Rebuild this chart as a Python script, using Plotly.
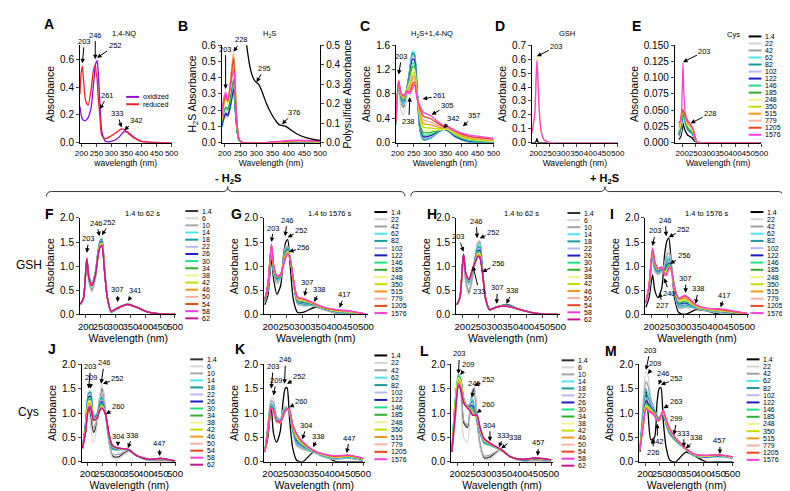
import plotly.graph_objects as go

FONT = 'Arial, "Liberation Sans", sans-serif'
FW, FH = 790, 491

# ---------------- series names / colours ----------------
S15 = ['1.4', '22', '42', '62', '82', '102', '122', '146', '185', '248', '350', '515', '779', '1205', '1576']
S16 = ['1.4', '6', '10', '14', '18', '22', '26', '30', '34', '38', '42', '46', '50', '54', '58', '62']
COL15 = ['#000000', '#d4d4d4', '#a0a0a0', '#4fe3f0', '#1a9a9a', '#b9b9f0', '#1c1cc4', '#22e085',
         '#2fae2f', '#f2f28c', '#c6dc00', '#f39a1c', '#f5b3a3', '#e8461c', '#ff3fd2']
COL16 = ['#333333', '#d8d8d8', '#a6a6a6', '#4fe3f0', '#1a9a9a', '#b9b9f0', '#1c1cc4', '#22e085',
         '#2fae2f', '#f2f28c', '#c6dc00', '#f39a1c', '#f5b3a3', '#e8461c', '#f03cd8', '#c0188e']

# ---------------- A: 1,4-NQ ----------------
A_WL = [195, 199, 203, 208, 214, 222, 232, 240, 246, 249, 252, 256, 261, 268, 280, 300, 320, 333, 342, 355, 375, 400, 450, 500]
A_OXIDIZED = [0.26, 0.2, 0.17, 0.16, 0.16, 0.18, 0.25, 0.42, 0.55, 0.58, 0.59, 0.5, 0.3, 0.08, 0.01, 0.01, 0.03, 0.06, 0.08, 0.075, 0.04, 0.01, 0.0, 0.0]
A_REDUCED = [0.35, 0.5, 0.55, 0.42, 0.3, 0.27, 0.38, 0.52, 0.56, 0.5, 0.46, 0.32, 0.2, 0.05, 0.03, 0.05, 0.08, 0.1, 0.095, 0.07, 0.035, 0.01, 0.002, 0.0]

# ---------------- B: H2S (left, 22..1576) + polysulfide (right) ----------------
B_WL = [191, 197, 203, 210, 218, 228, 236, 244, 252, 270, 320, 380, 420, 460, 500]
B_ABS = {
    191: [0.1, 0.1, 0.1, 0.1, 0.11, 0.1, 0.12, 0.13, 0.14, 0.15, 0.15, 0.16, 0.16, 0.17],
    197: [0.14, 0.14, 0.15, 0.15, 0.16, 0.15, 0.18, 0.19, 0.22, 0.23, 0.24, 0.25, 0.25, 0.27],
    203: [0.17, 0.17, 0.18, 0.18, 0.19, 0.18, 0.21, 0.22, 0.26, 0.27, 0.28, 0.29, 0.29, 0.31],
    210: [0.16, 0.16, 0.17, 0.17, 0.18, 0.17, 0.2, 0.21, 0.24, 0.25, 0.26, 0.26, 0.26, 0.26],
    218: [0.22, 0.22, 0.23, 0.23, 0.24, 0.23, 0.26, 0.28, 0.34, 0.36, 0.37, 0.37, 0.36, 0.34],
    228: [0.31, 0.31, 0.32, 0.33, 0.34, 0.33, 0.37, 0.39, 0.5, 0.53, 0.55, 0.54, 0.52, 0.45],
    236: [0.13, 0.13, 0.13, 0.14, 0.14, 0.14, 0.15, 0.16, 0.2, 0.21, 0.22, 0.22, 0.21, 0.18],
    244: [0.02, 0.02, 0.02, 0.02, 0.02, 0.02, 0.02, 0.02, 0.03, 0.03, 0.03, 0.03, 0.03, 0.03],
    252: [0.005, 0.005, 0.005, 0.005, 0.005, 0.005, 0.005, 0.005, 0.005, 0.005, 0.005, 0.005, 0.005, 0.005],
    270: [0.0, 0.0, 0.0, 0.0, 0.0, 0.0, 0.0, 0.0, 0.0, 0.0, 0.0, 0.0, 0.0, 0.0],
    320: [0.0, 0.0, 0.0, 0.0, 0.0, 0.0, 0.0, 0.0, 0.0, 0.0, 0.0, 0.0, 0.0, 0.0],
    380: [0.003, 0.003, 0.003, 0.003, 0.004, 0.004, 0.004, 0.005, 0.005, 0.006, 0.006, 0.007, 0.008, 0.01],
    420: [0.004, 0.004, 0.005, 0.005, 0.006, 0.006, 0.007, 0.008, 0.009, 0.01, 0.011, 0.012, 0.013, 0.016],
    460: [0.004, 0.004, 0.004, 0.005, 0.005, 0.005, 0.006, 0.007, 0.008, 0.009, 0.01, 0.011, 0.012, 0.014],
    500: [0.002, 0.002, 0.002, 0.002, 0.003, 0.003, 0.003, 0.004, 0.004, 0.005, 0.005, 0.006, 0.006, 0.008],
}
B_PS_WL = [250, 268, 281, 291, 301, 306, 316, 331, 346, 362, 372, 382, 392, 407, 427, 458, 493, 500]
B_PS = [0.8, 0.512, 0.377, 0.327, 0.307, 0.302, 0.268, 0.201, 0.15, 0.109, 0.092, 0.088, 0.084, 0.067, 0.045, 0.025, 0.013, 0.012]

# ---------------- C: H2S + 1,4-NQ ----------------
C_WL = [194, 203, 210, 218, 228, 238, 246, 252, 261, 270, 280, 305, 325, 342, 357, 380, 420, 460, 500]
C_ABS = {
    194: [0.3, 0.3, 0.3, 0.3, 0.31, 0.31, 0.32, 0.32, 0.32, 0.33, 0.33, 0.33, 0.34, 0.34, 0.35],
    203: [0.95, 0.9, 0.95, 0.98, 0.98, 0.99, 0.99, 1.0, 1.0, 1.0, 1.0, 1.01, 1.02, 1.02, 1.0],
    210: [0.7, 0.55, 0.7, 0.72, 0.74, 0.75, 0.76, 0.77, 0.78, 0.79, 0.8, 0.8, 0.81, 0.82, 0.82],
    218: [0.58, 0.45, 0.58, 0.62, 0.65, 0.67, 0.69, 0.7, 0.72, 0.73, 0.74, 0.75, 0.76, 0.77, 0.78],
    228: [0.85, 0.7, 0.85, 0.88, 0.88, 0.88, 0.87, 0.87, 0.86, 0.86, 0.85, 0.85, 0.84, 0.84, 0.83],
    238: [1.2, 1.15, 1.2, 1.2, 1.18, 1.15, 1.12, 1.08, 1.04, 1.0, 0.96, 0.92, 0.88, 0.84, 0.8],
    246: [1.45, 1.45, 1.48, 1.5, 1.46, 1.42, 1.37, 1.3, 1.24, 1.18, 1.12, 1.06, 1.0, 0.95, 0.9],
    252: [1.42, 1.42, 1.45, 1.48, 1.45, 1.4, 1.36, 1.3, 1.25, 1.2, 1.15, 1.1, 1.05, 1.0, 0.95],
    261: [0.85, 0.85, 0.85, 0.85, 0.84, 0.83, 0.82, 0.8, 0.79, 0.78, 0.76, 0.75, 0.74, 0.73, 0.72],
    270: [0.2, 0.2, 0.2, 0.2, 0.22, 0.25, 0.28, 0.32, 0.36, 0.4, 0.44, 0.48, 0.52, 0.56, 0.6],
    280: [0.05, 0.05, 0.05, 0.05, 0.06, 0.08, 0.1, 0.13, 0.17, 0.21, 0.26, 0.32, 0.38, 0.44, 0.5],
    305: [0.08, 0.08, 0.08, 0.08, 0.09, 0.1, 0.12, 0.14, 0.17, 0.2, 0.24, 0.29, 0.34, 0.39, 0.44],
    325: [0.17, 0.17, 0.17, 0.17, 0.17, 0.17, 0.18, 0.19, 0.2, 0.21, 0.23, 0.26, 0.29, 0.32, 0.35],
    342: [0.22, 0.22, 0.22, 0.22, 0.22, 0.22, 0.22, 0.22, 0.22, 0.22, 0.23, 0.24, 0.25, 0.27, 0.29],
    357: [0.2, 0.2, 0.2, 0.2, 0.2, 0.2, 0.2, 0.21, 0.21, 0.22, 0.23, 0.24, 0.25, 0.26, 0.27],
    380: [0.1, 0.1, 0.1, 0.1, 0.1, 0.11, 0.11, 0.12, 0.13, 0.14, 0.15, 0.17, 0.18, 0.19, 0.2],
    420: [0.02, 0.02, 0.02, 0.02, 0.02, 0.03, 0.03, 0.04, 0.05, 0.06, 0.07, 0.08, 0.1, 0.11, 0.13],
    460: [0.01, 0.01, 0.01, 0.01, 0.01, 0.01, 0.02, 0.02, 0.03, 0.04, 0.05, 0.06, 0.07, 0.08, 0.1],
    500: [0.0, 0.0, 0.0, 0.0, 0.0, 0.01, 0.01, 0.01, 0.02, 0.02, 0.03, 0.04, 0.05, 0.06, 0.07],
}

# ---------------- D: GSH ----------------
D_WL = [185, 195, 200, 203, 206, 210, 215, 220, 230, 245, 270, 500]
D_NAMES = ['1.4', '22', '248', '1576']
D_ROWS = [
    [0.0, 0.0, 0.01, 0.03, 0.01, 0.0, 0.0, 0.0, 0.0, 0.0, 0.0, 0.0],
    [0.09, 0.2, 0.44, 0.58, 0.5, 0.3, 0.14, 0.07, 0.02, 0.005, 0.0, 0.0],
    [0.08, 0.21, 0.47, 0.62, 0.53, 0.32, 0.15, 0.07, 0.02, 0.005, 0.0, 0.0],
    [0.07, 0.2, 0.45, 0.59, 0.5, 0.3, 0.14, 0.07, 0.02, 0.005, 0.0, 0.0],
]

# ---------------- E: Cys ----------------
E_WL = [188, 195, 200, 203, 206, 212, 220, 228, 236, 242, 248, 256, 270, 500]
E_ABS = {
    188: [0.005, 0.008, 0.01, 0.012, 0.012, 0.013, 0.013, 0.014, 0.015, 0.02, 0.022, 0.025, 0.028, 0.03, 0.03],
    195: [0.01, 0.015, 0.02, 0.022, 0.022, 0.024, 0.024, 0.025, 0.026, 0.03, 0.032, 0.034, 0.035, 0.035, 0.035],
    200: [0.02, 0.03, 0.035, 0.038, 0.038, 0.04, 0.04, 0.042, 0.044, 0.048, 0.05, 0.05, 0.05, 0.05, 0.08],
    203: [0.03, 0.04, 0.044, 0.046, 0.046, 0.048, 0.048, 0.05, 0.05, 0.05, 0.052, 0.05, 0.05, 0.05, 0.123],
    206: [0.025, 0.035, 0.04, 0.042, 0.042, 0.044, 0.044, 0.045, 0.046, 0.048, 0.048, 0.047, 0.046, 0.046, 0.08],
    212: [0.018, 0.028, 0.03, 0.032, 0.032, 0.034, 0.034, 0.035, 0.036, 0.038, 0.04, 0.04, 0.04, 0.04, 0.045],
    220: [0.012, 0.02, 0.021, 0.021, 0.022, 0.022, 0.022, 0.023, 0.024, 0.028, 0.03, 0.032, 0.032, 0.033, 0.035],
    228: [0.01, 0.016, 0.017, 0.017, 0.018, 0.018, 0.018, 0.019, 0.02, 0.024, 0.026, 0.028, 0.029, 0.03, 0.03],
    236: [0.008, 0.014, 0.015, 0.015, 0.016, 0.016, 0.016, 0.017, 0.018, 0.02, 0.022, 0.024, 0.025, 0.025, 0.025],
    242: [0.005, 0.01, 0.011, 0.011, 0.012, 0.012, 0.012, 0.013, 0.013, 0.015, 0.016, 0.018, 0.019, 0.02, 0.02],
    248: [0.002, 0.004, 0.005, 0.005, 0.005, 0.005, 0.005, 0.006, 0.006, 0.007, 0.008, 0.009, 0.01, 0.01, 0.01],
    256: [0.001, 0.001, 0.001, 0.001, 0.001, 0.001, 0.001, 0.001, 0.001, 0.001, 0.001, 0.001, 0.001, 0.001, 0.001],
    270: [0.0, 0.0, 0.0, 0.0, 0.0, 0.0, 0.0, 0.0, 0.0, 0.0, 0.0, 0.0, 0.0, 0.0, 0.0],
    500: [0.0, 0.0, 0.0, 0.0, 0.0, 0.0, 0.0, 0.0, 0.0, 0.0, 0.0, 0.0, 0.0, 0.0, 0.0],
}

# ---------------- F-M share one wavelength grid ----------------
WL = [182, 192, 203, 210, 220, 232, 241, 248, 254, 262, 272, 285, 305, 340, 370, 410, 450, 500]

F_ABS = {  # GSH, -H2S, 1.4-62 s
    182: [0.2, 0.2, 0.2, 0.22, 0.22, 0.22, 0.22, 0.22, 0.22, 0.22, 0.22, 0.22, 0.22, 0.22, 0.22, 0.22],
    192: [0.32, 0.3, 0.32, 0.35, 0.35, 0.35, 0.35, 0.35, 0.35, 0.35, 0.35, 0.35, 0.35, 0.35, 0.35, 0.35],
    203: [1.12, 1.1, 1.12, 1.16, 1.16, 1.16, 1.16, 1.16, 1.16, 1.15, 1.15, 1.15, 1.15, 1.15, 1.15, 1.15],
    210: [0.72, 0.68, 0.7, 0.8, 0.8, 0.79, 0.79, 0.78, 0.78, 0.77, 0.77, 0.77, 0.76, 0.76, 0.76, 0.76],
    220: [0.5, 0.45, 0.5, 0.64, 0.65, 0.63, 0.62, 0.62, 0.61, 0.61, 0.6, 0.6, 0.6, 0.6, 0.6, 0.6],
    232: [0.78, 0.72, 0.76, 0.88, 0.88, 0.87, 0.86, 0.85, 0.85, 0.84, 0.84, 0.83, 0.83, 0.82, 0.82, 0.82],
    241: [1.22, 1.2, 1.22, 1.32, 1.32, 1.3, 1.29, 1.28, 1.27, 1.26, 1.25, 1.25, 1.24, 1.23, 1.22, 1.22],
    248: [1.46, 1.45, 1.46, 1.53, 1.53, 1.51, 1.49, 1.47, 1.46, 1.45, 1.44, 1.43, 1.42, 1.41, 1.4, 1.39],
    254: [1.48, 1.47, 1.48, 1.56, 1.56, 1.53, 1.51, 1.49, 1.48, 1.47, 1.46, 1.45, 1.44, 1.43, 1.42, 1.41],
    262: [0.98, 0.98, 0.98, 1.02, 1.02, 1.0, 0.99, 0.98, 0.97, 0.97, 0.96, 0.96, 0.95, 0.95, 0.94, 0.94],
    272: [0.36, 0.36, 0.36, 0.38, 0.38, 0.37, 0.37, 0.36, 0.36, 0.36, 0.35, 0.35, 0.35, 0.35, 0.35, 0.35],
    285: [0.07, 0.07, 0.07, 0.05, 0.05, 0.06, 0.06, 0.06, 0.07, 0.07, 0.07, 0.07, 0.07, 0.07, 0.07, 0.07],
    305: [0.12, 0.12, 0.12, 0.11, 0.11, 0.12, 0.12, 0.12, 0.12, 0.12, 0.13, 0.13, 0.13, 0.13, 0.13, 0.13],
    340: [0.2, 0.2, 0.2, 0.22, 0.22, 0.22, 0.21, 0.21, 0.21, 0.21, 0.21, 0.21, 0.21, 0.21, 0.21, 0.21],
    370: [0.15, 0.15, 0.15, 0.16, 0.16, 0.16, 0.15, 0.15, 0.15, 0.15, 0.15, 0.15, 0.15, 0.15, 0.15, 0.15],
    410: [0.05, 0.05, 0.05, 0.05, 0.05, 0.05, 0.05, 0.05, 0.05, 0.05, 0.05, 0.05, 0.05, 0.05, 0.05, 0.05],
    450: [0.01, 0.01, 0.01, 0.01, 0.01, 0.01, 0.01, 0.01, 0.01, 0.01, 0.01, 0.01, 0.01, 0.01, 0.01, 0.01],
    500: [0.0, 0.0, 0.0, 0.0, 0.0, 0.0, 0.0, 0.0, 0.0, 0.0, 0.0, 0.0, 0.0, 0.0, 0.0, 0.0],
}
G_ABS = {  # GSH, -H2S, 1.4-1576 s
    182: [0.2, 0.25, 0.26, 0.27, 0.27, 0.28, 0.28, 0.28, 0.29, 0.29, 0.29, 0.3, 0.3, 0.3, 0.3],
    192: [0.4, 0.5, 0.52, 0.54, 0.55, 0.56, 0.57, 0.58, 0.6, 0.6, 0.62, 0.62, 0.63, 0.64, 0.65],
    203: [1.15, 1.3, 1.32, 1.34, 1.35, 1.36, 1.37, 1.38, 1.4, 1.41, 1.42, 1.43, 1.44, 1.45, 1.46],
    210: [0.72, 0.85, 0.88, 0.9, 0.92, 0.93, 0.94, 0.95, 0.97, 0.98, 0.99, 1.0, 1.0, 1.01, 1.02],
    220: [0.42, 0.62, 0.66, 0.7, 0.72, 0.74, 0.75, 0.76, 0.77, 0.78, 0.79, 0.8, 0.8, 0.8, 0.8],
    232: [0.6, 0.75, 0.78, 0.8, 0.81, 0.82, 0.82, 0.83, 0.83, 0.83, 0.83, 0.83, 0.83, 0.83, 0.83],
    241: [1.22, 1.15, 1.13, 1.12, 1.11, 1.1, 1.09, 1.08, 1.07, 1.06, 1.05, 1.05, 1.04, 1.03, 1.02],
    248: [1.5, 1.42, 1.38, 1.35, 1.33, 1.31, 1.3, 1.28, 1.26, 1.25, 1.23, 1.22, 1.2, 1.19, 1.18],
    254: [1.55, 1.42, 1.4, 1.38, 1.37, 1.35, 1.34, 1.33, 1.31, 1.3, 1.29, 1.28, 1.27, 1.26, 1.25],
    262: [1.0, 1.15, 1.15, 1.15, 1.15, 1.15, 1.15, 1.15, 1.15, 1.15, 1.15, 1.15, 1.15, 1.14, 1.14],
    272: [0.3, 0.68, 0.68, 0.69, 0.69, 0.7, 0.7, 0.7, 0.71, 0.71, 0.72, 0.72, 0.73, 0.73, 0.74],
    285: [0.04, 0.2, 0.22, 0.24, 0.25, 0.27, 0.28, 0.29, 0.3, 0.31, 0.32, 0.33, 0.34, 0.35, 0.36],
    305: [0.05, 0.17, 0.19, 0.21, 0.22, 0.24, 0.25, 0.26, 0.27, 0.28, 0.29, 0.3, 0.31, 0.32, 0.33],
    340: [0.15, 0.17, 0.18, 0.18, 0.19, 0.19, 0.2, 0.2, 0.2, 0.21, 0.21, 0.21, 0.22, 0.22, 0.22],
    370: [0.1, 0.1, 0.1, 0.11, 0.11, 0.11, 0.12, 0.12, 0.12, 0.13, 0.13, 0.13, 0.14, 0.14, 0.14],
    410: [0.02, 0.03, 0.04, 0.04, 0.05, 0.05, 0.06, 0.06, 0.07, 0.07, 0.08, 0.08, 0.09, 0.09, 0.1],
    450: [0.0, 0.02, 0.02, 0.03, 0.03, 0.03, 0.04, 0.04, 0.05, 0.05, 0.05, 0.06, 0.06, 0.07, 0.07],
    500: [0.0, 0.0, 0.0, 0.0, 0.0, 0.01, 0.01, 0.01, 0.01, 0.01, 0.01, 0.01, 0.01, 0.01, 0.01],
}
H_ABS = {  # GSH, +H2S, 1.4-62 s
    182: [0.2, 0.2, 0.2, 0.2, 0.2, 0.2, 0.2, 0.2, 0.2, 0.2, 0.2, 0.2, 0.2, 0.2, 0.2, 0.2],
    192: [0.35, 0.33, 0.35, 0.36, 0.36, 0.36, 0.36, 0.36, 0.36, 0.36, 0.36, 0.36, 0.36, 0.36, 0.36, 0.36],
    203: [1.2, 1.2, 1.22, 1.24, 1.25, 1.25, 1.25, 1.25, 1.25, 1.25, 1.25, 1.25, 1.25, 1.25, 1.25, 1.25],
    210: [0.7, 0.62, 0.7, 0.82, 0.84, 0.84, 0.85, 0.85, 0.86, 0.86, 0.86, 0.86, 0.86, 0.86, 0.86, 0.86],
    220: [0.45, 0.4, 0.5, 0.62, 0.65, 0.66, 0.68, 0.69, 0.7, 0.7, 0.71, 0.71, 0.72, 0.72, 0.72, 0.72],
    232: [0.78, 0.72, 0.8, 0.9, 0.92, 0.93, 0.94, 0.94, 0.95, 0.95, 0.95, 0.95, 0.95, 0.95, 0.95, 0.95],
    241: [1.22, 1.2, 1.22, 1.22, 1.2, 1.18, 1.17, 1.15, 1.14, 1.13, 1.12, 1.11, 1.1, 1.1, 1.09, 1.09],
    248: [1.48, 1.48, 1.46, 1.42, 1.38, 1.35, 1.32, 1.3, 1.28, 1.26, 1.25, 1.23, 1.22, 1.21, 1.2, 1.2],
    254: [1.52, 1.52, 1.5, 1.45, 1.4, 1.36, 1.33, 1.3, 1.28, 1.26, 1.24, 1.22, 1.21, 1.2, 1.19, 1.18],
    262: [1.0, 1.0, 1.0, 0.98, 0.97, 0.96, 0.95, 0.94, 0.93, 0.92, 0.91, 0.9, 0.9, 0.9, 0.9, 0.9],
    272: [0.33, 0.32, 0.33, 0.35, 0.35, 0.35, 0.35, 0.35, 0.35, 0.35, 0.35, 0.35, 0.35, 0.35, 0.35, 0.35],
    285: [0.1, 0.1, 0.1, 0.1, 0.1, 0.1, 0.1, 0.1, 0.1, 0.1, 0.1, 0.1, 0.1, 0.1, 0.1, 0.1],
    305: [0.14, 0.14, 0.14, 0.15, 0.15, 0.15, 0.15, 0.15, 0.15, 0.15, 0.15, 0.15, 0.15, 0.15, 0.15, 0.15],
    340: [0.19, 0.19, 0.2, 0.21, 0.21, 0.2, 0.2, 0.19, 0.19, 0.18, 0.18, 0.18, 0.17, 0.17, 0.17, 0.17],
    370: [0.12, 0.12, 0.12, 0.13, 0.13, 0.12, 0.12, 0.12, 0.12, 0.12, 0.12, 0.12, 0.12, 0.12, 0.12, 0.12],
    410: [0.05, 0.05, 0.05, 0.05, 0.05, 0.05, 0.05, 0.05, 0.05, 0.05, 0.05, 0.05, 0.05, 0.05, 0.05, 0.05],
    450: [0.01, 0.01, 0.01, 0.01, 0.01, 0.01, 0.01, 0.01, 0.01, 0.01, 0.01, 0.01, 0.01, 0.01, 0.01, 0.01],
    500: [0.0, 0.0, 0.0, 0.0, 0.0, 0.0, 0.0, 0.0, 0.0, 0.0, 0.0, 0.0, 0.0, 0.0, 0.0, 0.0],
}
I_ABS = {  # GSH, +H2S, 1.4-1576 s
    182: [0.15, 0.22, 0.22, 0.23, 0.23, 0.23, 0.24, 0.24, 0.24, 0.24, 0.25, 0.25, 0.25, 0.25, 0.25],
    192: [0.35, 0.5, 0.52, 0.54, 0.55, 0.56, 0.57, 0.58, 0.6, 0.6, 0.6, 0.6, 0.6, 0.6, 0.6],
    203: [0.82, 1.2, 1.22, 1.24, 1.26, 1.28, 1.29, 1.3, 1.31, 1.32, 1.33, 1.34, 1.35, 1.36, 1.38],
    210: [0.5, 0.9, 0.92, 0.95, 0.97, 0.99, 1.0, 1.02, 1.04, 1.05, 1.06, 1.07, 1.08, 1.09, 1.1],
    220: [0.35, 0.82, 0.84, 0.86, 0.88, 0.89, 0.9, 0.91, 0.92, 0.93, 0.93, 0.94, 0.94, 0.95, 0.95],
    232: [0.55, 0.88, 0.9, 0.92, 0.93, 0.94, 0.95, 0.96, 0.97, 0.97, 0.98, 0.98, 0.98, 0.98, 0.98],
    241: [1.25, 1.05, 1.02, 0.98, 0.96, 0.94, 0.92, 0.9, 0.88, 0.87, 0.86, 0.85, 0.84, 0.83, 0.82],
    248: [1.52, 1.3, 1.22, 1.15, 1.1, 1.05, 1.02, 0.98, 0.95, 0.92, 0.9, 0.88, 0.86, 0.84, 0.82],
    254: [1.58, 1.35, 1.28, 1.2, 1.15, 1.1, 1.07, 1.04, 1.02, 1.0, 0.99, 0.98, 0.97, 0.97, 0.98],
    262: [1.05, 1.05, 1.02, 1.0, 0.98, 0.96, 0.95, 0.94, 0.93, 0.92, 0.92, 0.92, 0.92, 0.92, 0.92],
    272: [0.35, 0.45, 0.46, 0.47, 0.48, 0.49, 0.5, 0.51, 0.52, 0.53, 0.54, 0.55, 0.56, 0.57, 0.58],
    285: [0.04, 0.12, 0.14, 0.16, 0.18, 0.2, 0.22, 0.24, 0.26, 0.28, 0.3, 0.31, 0.32, 0.33, 0.34],
    305: [0.0, 0.14, 0.16, 0.18, 0.2, 0.22, 0.24, 0.26, 0.28, 0.3, 0.32, 0.34, 0.36, 0.38, 0.4],
    340: [0.1, 0.12, 0.13, 0.13, 0.14, 0.14, 0.15, 0.15, 0.16, 0.16, 0.17, 0.17, 0.18, 0.19, 0.2],
    370: [0.08, 0.08, 0.08, 0.09, 0.09, 0.09, 0.1, 0.1, 0.1, 0.11, 0.11, 0.12, 0.12, 0.13, 0.13],
    410: [0.01, 0.04, 0.05, 0.05, 0.06, 0.06, 0.07, 0.07, 0.08, 0.08, 0.09, 0.09, 0.1, 0.11, 0.12],
    450: [0.0, 0.02, 0.02, 0.03, 0.03, 0.04, 0.04, 0.05, 0.05, 0.05, 0.06, 0.06, 0.07, 0.07, 0.08],
    500: [0.0, 0.0, 0.0, 0.0, 0.01, 0.01, 0.01, 0.01, 0.01, 0.01, 0.02, 0.02, 0.02, 0.02, 0.02],
}
J_ABS = {  # Cys, -H2S, 1.4-62 s
    182: [0.28, 0.28, 0.28, 0.28, 0.28, 0.28, 0.28, 0.28, 0.28, 0.28, 0.28, 0.28, 0.28, 0.28, 0.28, 0.28],
    192: [0.6, 0.55, 0.65, 0.8, 0.78, 0.75, 0.72, 0.7, 0.68, 0.66, 0.64, 0.62, 0.6, 0.6, 0.58, 0.58],
    203: [1.1, 1.05, 1.2, 1.42, 1.4, 1.36, 1.32, 1.3, 1.27, 1.24, 1.2, 1.17, 1.15, 1.12, 1.1, 1.08],
    210: [0.95, 0.7, 1.05, 1.45, 1.42, 1.38, 1.34, 1.3, 1.27, 1.24, 1.21, 1.18, 1.16, 1.14, 1.12, 1.1],
    220: [0.6, 0.4, 0.7, 0.95, 0.93, 0.92, 0.9, 0.89, 0.88, 0.87, 0.86, 0.86, 0.85, 0.85, 0.85, 0.85],
    232: [0.8, 0.75, 0.88, 1.0, 0.98, 0.97, 0.95, 0.94, 0.93, 0.92, 0.92, 0.91, 0.9, 0.9, 0.9, 0.9],
    241: [1.3, 1.35, 1.25, 1.22, 1.2, 1.18, 1.15, 1.12, 1.1, 1.08, 1.07, 1.06, 1.05, 1.05, 1.05, 1.05],
    248: [1.5, 1.58, 1.4, 1.35, 1.32, 1.28, 1.24, 1.2, 1.17, 1.15, 1.13, 1.12, 1.11, 1.1, 1.1, 1.1],
    254: [1.4, 1.45, 1.3, 1.2, 1.18, 1.16, 1.14, 1.12, 1.11, 1.1, 1.09, 1.08, 1.08, 1.07, 1.07, 1.07],
    262: [0.95, 0.98, 0.95, 0.95, 0.95, 0.95, 0.95, 0.95, 0.95, 0.95, 0.95, 0.95, 0.95, 0.95, 0.95, 0.95],
    272: [0.45, 0.45, 0.5, 0.55, 0.56, 0.56, 0.57, 0.58, 0.58, 0.59, 0.6, 0.6, 0.6, 0.6, 0.6, 0.6],
    285: [0.12, 0.08, 0.15, 0.25, 0.26, 0.27, 0.28, 0.29, 0.3, 0.31, 0.32, 0.32, 0.33, 0.33, 0.33, 0.33],
    305: [0.1, 0.06, 0.15, 0.24, 0.25, 0.25, 0.26, 0.26, 0.27, 0.27, 0.27, 0.28, 0.28, 0.28, 0.28, 0.28],
    340: [0.23, 0.2, 0.24, 0.25, 0.25, 0.25, 0.25, 0.25, 0.25, 0.25, 0.25, 0.25, 0.25, 0.25, 0.25, 0.25],
    370: [0.12, 0.12, 0.12, 0.12, 0.12, 0.12, 0.12, 0.12, 0.12, 0.12, 0.12, 0.12, 0.12, 0.12, 0.12, 0.12],
    410: [0.03, 0.02, 0.03, 0.04, 0.04, 0.04, 0.05, 0.05, 0.05, 0.05, 0.05, 0.05, 0.05, 0.05, 0.05, 0.05],
    450: [0.03, 0.01, 0.04, 0.07, 0.07, 0.07, 0.07, 0.07, 0.07, 0.07, 0.07, 0.07, 0.07, 0.07, 0.07, 0.07],
    500: [0.01, 0.0, 0.01, 0.02, 0.02, 0.02, 0.02, 0.02, 0.02, 0.02, 0.02, 0.02, 0.02, 0.02, 0.02, 0.02],
}
K_ABS = {  # Cys, -H2S, 1.4-1576 s
    182: [0.2, 0.2, 0.2, 0.2, 0.2, 0.2, 0.2, 0.2, 0.2, 0.2, 0.2, 0.2, 0.2, 0.2, 0.2],
    192: [0.5, 0.75, 0.72, 0.7, 0.68, 0.67, 0.66, 0.65, 0.64, 0.63, 0.62, 0.61, 0.6, 0.6, 0.6],
    203: [1.12, 1.3, 1.25, 1.2, 1.17, 1.15, 1.13, 1.12, 1.11, 1.1, 1.1, 1.1, 1.1, 1.1, 1.1],
    210: [0.6, 1.3, 1.22, 1.15, 1.12, 1.1, 1.08, 1.07, 1.06, 1.05, 1.05, 1.05, 1.05, 1.05, 1.05],
    220: [0.4, 0.95, 0.92, 0.9, 0.88, 0.87, 0.86, 0.85, 0.84, 0.83, 0.83, 0.83, 0.83, 0.83, 0.83],
    232: [0.62, 0.88, 0.86, 0.84, 0.83, 0.82, 0.82, 0.81, 0.81, 0.8, 0.8, 0.8, 0.8, 0.8, 0.82],
    241: [1.22, 1.05, 1.02, 1.0, 0.98, 0.96, 0.95, 0.94, 0.93, 0.92, 0.92, 0.92, 0.92, 0.93, 0.94],
    248: [1.5, 1.15, 1.12, 1.1, 1.08, 1.06, 1.05, 1.04, 1.03, 1.02, 1.02, 1.02, 1.03, 1.04, 1.05],
    254: [1.52, 1.12, 1.1, 1.08, 1.07, 1.06, 1.06, 1.06, 1.06, 1.06, 1.07, 1.07, 1.08, 1.08, 1.09],
    262: [0.9, 1.02, 1.02, 1.02, 1.02, 1.03, 1.03, 1.04, 1.04, 1.05, 1.05, 1.06, 1.06, 1.07, 1.07],
    272: [0.3, 0.65, 0.66, 0.67, 0.68, 0.69, 0.7, 0.71, 0.72, 0.73, 0.74, 0.75, 0.76, 0.77, 0.78],
    285: [0.03, 0.32, 0.35, 0.38, 0.4, 0.42, 0.44, 0.46, 0.48, 0.5, 0.52, 0.54, 0.56, 0.57, 0.58],
    305: [0.0, 0.25, 0.27, 0.29, 0.31, 0.32, 0.33, 0.34, 0.35, 0.36, 0.37, 0.38, 0.39, 0.4, 0.41],
    340: [0.2, 0.2, 0.2, 0.21, 0.21, 0.21, 0.22, 0.22, 0.22, 0.22, 0.23, 0.23, 0.23, 0.23, 0.23],
    370: [0.15, 0.1, 0.11, 0.11, 0.12, 0.12, 0.13, 0.13, 0.14, 0.14, 0.15, 0.15, 0.15, 0.16, 0.16],
    410: [0.01, 0.05, 0.06, 0.06, 0.07, 0.07, 0.08, 0.08, 0.09, 0.09, 0.1, 0.1, 0.11, 0.11, 0.12],
    450: [0.0, 0.07, 0.08, 0.08, 0.09, 0.09, 0.1, 0.1, 0.11, 0.11, 0.12, 0.12, 0.13, 0.13, 0.14],
    500: [0.0, 0.03, 0.03, 0.04, 0.04, 0.04, 0.05, 0.05, 0.05, 0.06, 0.06, 0.06, 0.07, 0.07, 0.07],
}
L_ABS = {  # Cys, +H2S, 1.4-62 s
    182: [0.2, 0.2, 0.2, 0.2, 0.2, 0.2, 0.2, 0.2, 0.2, 0.2, 0.2, 0.2, 0.2, 0.2, 0.2, 0.2],
    192: [0.9, 0.7, 0.8, 1.2, 1.15, 1.1, 1.08, 1.2, 1.15, 1.1, 1.05, 1.0, 0.95, 0.95, 0.95, 0.9],
    203: [1.6, 1.5, 1.55, 1.72, 1.7, 1.7, 1.68, 1.78, 1.75, 1.72, 1.68, 1.65, 1.62, 1.6, 1.58, 1.55],
    210: [1.55, 1.3, 1.5, 1.68, 1.66, 1.65, 1.63, 1.72, 1.7, 1.66, 1.62, 1.58, 1.55, 1.52, 1.5, 1.48],
    220: [0.8, 0.5, 0.85, 1.3, 1.28, 1.28, 1.27, 1.3, 1.28, 1.27, 1.26, 1.25, 1.24, 1.23, 1.22, 1.2],
    232: [0.7, 0.4, 0.75, 1.15, 1.14, 1.14, 1.13, 1.13, 1.12, 1.12, 1.12, 1.11, 1.1, 1.1, 1.1, 1.1],
    241: [1.1, 1.05, 1.1, 1.2, 1.18, 1.16, 1.14, 1.12, 1.1, 1.08, 1.07, 1.06, 1.05, 1.05, 1.04, 1.04],
    248: [1.45, 1.5, 1.35, 1.3, 1.25, 1.2, 1.15, 1.1, 1.05, 1.02, 1.0, 0.98, 0.97, 0.96, 0.96, 0.96],
    254: [1.5, 1.55, 1.35, 1.15, 1.1, 1.05, 1.02, 1.0, 0.98, 0.97, 0.96, 0.95, 0.95, 0.95, 0.95, 0.95],
    262: [0.9, 0.95, 0.9, 0.85, 0.86, 0.87, 0.88, 0.89, 0.9, 0.91, 0.92, 0.93, 0.94, 0.95, 0.96, 0.97],
    272: [0.35, 0.3, 0.4, 0.6, 0.61, 0.62, 0.63, 0.64, 0.65, 0.66, 0.67, 0.68, 0.69, 0.7, 0.71, 0.72],
    285: [0.08, 0.05, 0.12, 0.38, 0.39, 0.4, 0.41, 0.42, 0.43, 0.44, 0.45, 0.46, 0.47, 0.48, 0.48, 0.48],
    305: [0.1, 0.06, 0.14, 0.33, 0.34, 0.34, 0.35, 0.35, 0.36, 0.36, 0.36, 0.37, 0.37, 0.37, 0.38, 0.38],
    340: [0.25, 0.24, 0.25, 0.24, 0.24, 0.24, 0.24, 0.24, 0.24, 0.24, 0.24, 0.25, 0.25, 0.25, 0.25, 0.25],
    370: [0.1, 0.1, 0.1, 0.1, 0.1, 0.1, 0.1, 0.1, 0.1, 0.1, 0.1, 0.1, 0.1, 0.1, 0.1, 0.1],
    410: [0.02, 0.01, 0.02, 0.04, 0.04, 0.04, 0.04, 0.04, 0.05, 0.05, 0.05, 0.05, 0.05, 0.05, 0.05, 0.05],
    450: [0.03, 0.01, 0.03, 0.06, 0.06, 0.06, 0.06, 0.07, 0.07, 0.07, 0.07, 0.07, 0.08, 0.08, 0.08, 0.08],
    500: [0.01, 0.0, 0.01, 0.03, 0.03, 0.03, 0.03, 0.03, 0.03, 0.03, 0.04, 0.04, 0.04, 0.04, 0.04, 0.04],
}
M_ABS = {  # Cys, +H2S, 1.4-1576 s
    182: [0.2, 0.25, 0.25, 0.25, 0.25, 0.25, 0.25, 0.25, 0.25, 0.25, 0.25, 0.25, 0.25, 0.25, 0.25],
    192: [0.8, 1.2, 1.0, 0.95, 0.9, 0.85, 0.82, 0.8, 0.78, 0.76, 0.74, 0.72, 0.7, 0.68, 0.66],
    203: [1.5, 1.85, 1.65, 1.48, 1.4, 1.32, 1.25, 1.2, 1.18, 1.16, 1.14, 1.12, 1.1, 1.09, 1.08],
    210: [1.0, 1.75, 1.55, 1.4, 1.32, 1.26, 1.2, 1.16, 1.14, 1.12, 1.1, 1.08, 1.06, 1.05, 1.05],
    220: [0.45, 1.3, 1.25, 1.2, 1.17, 1.15, 1.12, 1.1, 1.08, 1.06, 1.05, 1.04, 1.03, 1.02, 1.0],
    232: [0.5, 1.1, 1.08, 1.06, 1.05, 1.04, 1.02, 1.0, 0.99, 0.98, 0.97, 0.96, 0.95, 0.95, 0.95],
    241: [1.22, 0.95, 0.94, 0.93, 0.92, 0.91, 0.9, 0.89, 0.88, 0.87, 0.86, 0.86, 0.85, 0.85, 0.85],
    248: [1.5, 0.92, 0.9, 0.88, 0.87, 0.86, 0.85, 0.85, 0.84, 0.84, 0.84, 0.84, 0.84, 0.85, 0.85],
    254: [1.52, 0.95, 0.94, 0.93, 0.92, 0.92, 0.92, 0.92, 0.92, 0.93, 0.93, 0.94, 0.94, 0.95, 0.96],
    262: [0.85, 1.0, 1.0, 1.0, 1.01, 1.01, 1.02, 1.02, 1.03, 1.03, 1.04, 1.04, 1.05, 1.05, 1.06],
    272: [0.3, 0.75, 0.76, 0.77, 0.78, 0.79, 0.8, 0.81, 0.82, 0.83, 0.84, 0.85, 0.86, 0.87, 0.88],
    285: [0.03, 0.55, 0.56, 0.57, 0.58, 0.59, 0.6, 0.61, 0.62, 0.63, 0.64, 0.65, 0.66, 0.67, 0.68],
    305: [0.0, 0.42, 0.43, 0.44, 0.44, 0.45, 0.45, 0.46, 0.46, 0.47, 0.47, 0.48, 0.48, 0.49, 0.49],
    340: [0.2, 0.25, 0.25, 0.25, 0.25, 0.25, 0.26, 0.26, 0.26, 0.26, 0.26, 0.27, 0.27, 0.27, 0.27],
    370: [0.12, 0.12, 0.12, 0.12, 0.13, 0.13, 0.13, 0.13, 0.14, 0.14, 0.14, 0.15, 0.15, 0.15, 0.15],
    410: [0.0, 0.08, 0.09, 0.09, 0.1, 0.1, 0.1, 0.11, 0.11, 0.11, 0.12, 0.12, 0.12, 0.13, 0.13],
    450: [0.0, 0.1, 0.11, 0.11, 0.12, 0.12, 0.12, 0.13, 0.13, 0.13, 0.14, 0.14, 0.14, 0.14, 0.15],
    500: [0.0, 0.07, 0.07, 0.08, 0.08, 0.08, 0.09, 0.09, 0.09, 0.09, 0.1, 0.1, 0.1, 0.1, 0.1],
}

# peak labels: (text, wavelength, absorbance at arrow tip, dx px, dy px)
PEAKS = {
    'A': [('203', 203, 0.57, 2, -22), ('246', 246, 0.6, 0, -24), ('252', 252, 0.61, 18, -12),
          ('261', 261, 0.24, 8, -14), ('333', 333, 0.11, -4, -14), ('342', 342, 0.09, 12, -10)],
    'B': [('203', 203, 0.33, 0, -40), ('228', 228, 0.56, 8, -12)],
    'C': [('203', 203, 1.12, 3, -18), ('238', 238, 0.75, -1, 24), ('261', 278, 0.72, 17, -3),
          ('305', 306, 0.46, 16, -9), ('342', 343, 0.24, 10, -10), ('357', 404, 0.27, 12, -11)],
    'D': [('203', 203, 0.62, 20, -10)],
    'E': [('203', 203, 0.124, 22, -11), ('228', 232, 0.03, 20, -10)],
    'F': [('203', 203, 1.28, 2, -14), ('246', 246, 1.62, -3, -13), ('252', 254, 1.64, 8, -13),
          ('307', 307, 0.26, 0, -12), ('341', 341, 0.28, 8, -10)],
    'G': [('203', 203, 1.5, 2, -14), ('246', 246, 1.62, 2, -16), ('252', 254, 1.6, 14, -7),
          ('256', 258, 1.3, 15, -4), ('307', 307, 0.38, 3, -14), ('338', 338, 0.26, 5, -12),
          ('417', 417, 0.14, 5, -13)],
    'H': [('203', 203, 1.3, -5, -15), ('246', 246, 1.58, -1, -17), ('252', 254, 1.58, 14, -6),
          ('233', 233, 1.0, 6, 25), ('256', 262, 0.88, 16, -8), ('307', 307, 0.22, 1, -16),
          ('338', 338, 0.22, 6, -13)],
    'I': [('203', 203, 1.42, 3, -15), ('246', 246, 1.62, -1, -16), ('252', 254, 1.6, 15, -8),
          ('256', 258, 1.05, 14, -8), ('227', 225, 0.45, 3, 13), ('240', 240, 0.75, 5, 15),
          ('307', 307, 0.45, 0, -14), ('338', 338, 0.22, 3, -15), ('417', 417, 0.15, 4, -12)],
    'J': [('203', 203, 1.5, 2, -22), ('209', 209, 1.5, 1, -11), ('246', 246, 1.6, 3, -21),
          ('252', 252, 1.6, 15, -5), ('260', 262, 0.98, 13, -7), ('304', 304, 0.32, 0, -10),
          ('338', 338, 0.28, 5, -13), ('447', 447, 0.12, 0, -12)],
    'K': [('203', 203, 1.5, 2, -22), ('209', 210, 1.36, 3, -15), ('246', 246, 1.6, 1, -24),
          ('252', 254, 1.6, 13, -7), ('260', 262, 1.12, 12, -6), ('304', 304, 0.46, 4, -14),
          ('338', 338, 0.3, 6, -11), ('447', 447, 0.18, 3, -15)],
    'L': [('203', 203, 1.8, 1, -20), ('209', 209, 1.78, 8, -10), ('246', 246, 1.32, 3, -14),
          ('252', 254, 1.56, 14, -6), ('260', 262, 1.0, 12, -9), ('304', 304, 0.42, 0, -16),
          ('333', 333, 0.3, 5, -12), ('338', 340, 0.27, 14, -11), ('457', 457, 0.12, 1, -13)],
    'M': [('203', 203, 1.88, 4, -20), ('209', 209, 1.8, 8, -10), ('246', 246, 1.58, 5, -11),
          ('252', 254, 1.58, 16, -6), ('263', 263, 1.1, 13, -7), ('299', 299, 0.55, 3, -16),
          ('242', 242, 0.78, 0, 18), ('226', 226, 0.48, 1, 14), ('333', 333, 0.3, 0, -14),
          ('338', 340, 0.27, 11, -11), ('457', 457, 0.16, 0, -13)],
}
# polysulfide shoulders in panel B (right axis)
PS_PEAKS = [('295', 300, 0.31, 8, -14), ('376', 380, 0.095, 12, -12)]


def px(x):
    return x / FW


def py(y):
    return 1 - y / FH


# panel geometry in pixels: left, right, top, bottom
TOP, MID, BOT = (32, 132), (209, 308), (359, 459)
PANELS = {
    'A': dict(box=(68, 161) + TOP, xr=[195, 500], yr=[0, 0.7], dt=0.2, fmt='.1f'),
    'B': dict(box=(212, 312) + TOP, xr=[191, 500], yr=[0, 0.6], dt=0.1, fmt='.1f'),
    'C': dict(box=(389, 488) + TOP, xr=[195, 500], yr=[0, 1.6], dt=0.4, fmt='.1f'),
    'D': dict(box=(527, 614) + TOP, xr=[185, 500], yr=[0, 0.7], dt=0.1, fmt='.1f'),
    'E': dict(box=(672, 760) + TOP, xr=[172, 500], yr=[0, 0.15], dt=0.025, fmt='.3f'),
    'F': dict(box=(68, 166) + MID, xr=[180, 505], yr=[0, 2.0], dt=0.5, fmt='.1f'),
    'G': dict(box=(255, 360) + MID, xr=[180, 505], yr=[0, 2.0], dt=0.5, fmt='.1f'),
    'H': dict(box=(450, 555) + MID, xr=[180, 505], yr=[0, 2.0], dt=0.5, fmt='.1f'),
    'I': dict(box=(642, 747) + MID, xr=[180, 505], yr=[0, 2.0], dt=0.5, fmt='.1f'),
    'J': dict(box=(70, 166) + BOT, xr=[180, 505], yr=[0, 2.0], dt=0.5, fmt='.1f'),
    'K': dict(box=(255, 357) + BOT, xr=[180, 505], yr=[0, 2.0], dt=0.5, fmt='.1f'),
    'L': dict(box=(445, 548) + BOT, xr=[180, 505], yr=[0, 2.0], dt=0.5, fmt='.1f'),
    'M': dict(box=(636, 732) + BOT, xr=[180, 505], yr=[0, 2.0], dt=0.5, fmt='.1f'),
}
XTITLE = {'A': 'wavelength (nm)'}
YTITLE = {'B': 'H<sub>2</sub>S Absorbance'}

fig = go.Figure()
layout = dict(width=FW, height=FH, margin=dict(l=0, r=0, t=0, b=0), showlegend=False,
              paper_bgcolor='white', plot_bgcolor='white', font=dict(family=FONT, color='black', size=10))
annotations, shapes = [], []
AX = {}

for n, (key, p) in enumerate(PANELS.items(), start=1):
    x0, x1, y0, y1 = p['box']
    top = key in 'ABCDE'
    xa, ya = ('x', 'y') if n == 1 else (f'x{n}', f'y{n}')
    AX[key] = (xa, ya)
    layout['xaxis' if n == 1 else f'xaxis{n}'] = dict(
        domain=[px(x0), px(x1)], anchor=ya, range=p['xr'], tickvals=[200, 250, 300, 350, 400, 450, 500],
        tickangle=0, showline=True, linecolor='black', linewidth=1, ticks='outside', ticklen=3,
        showgrid=False, zeroline=False, tickfont=dict(size=8 if top else 9.6),
        title=dict(text=XTITLE.get(key, 'Wavelength (nm)'), font=dict(size=8.5 if top else 10.5), standoff=1))
    layout['yaxis' if n == 1 else f'yaxis{n}'] = dict(
        domain=[py(y1), py(y0)], anchor=xa, range=p['yr'], dtick=p['dt'], tickformat=p['fmt'],
        showline=True, linecolor='black', linewidth=1, ticks='outside', ticklen=3,
        showgrid=False, zeroline=False, tickfont=dict(size=10),
        title=dict(text=YTITLE.get(key, 'Absorbance'), font=dict(size=10.5), standoff=3))

# right-hand polysulfide axis of panel B
layout['yaxis20'] = dict(overlaying='y2', side='right', anchor='x2', range=[0, 0.5], dtick=0.1,
                         tickformat='.1f', showline=True, linecolor='black', ticks='outside', ticklen=3,
                         showgrid=False, zeroline=False, tickfont=dict(size=10),
                         title=dict(text='Polysulfide Absorbance', font=dict(size=10.5), standoff=3))

LINE = dict(shape='spline', smoothing=0.7, width=1.3)


def add_series(key, wl, names, colors, values):
    xa, ya = AX[key]
    for nm, c, v in zip(names, colors, values):
        fig.add_trace(go.Scatter(x=wl, y=v, mode='lines', name=nm, xaxis=xa, yaxis=ya,
                                 line=dict(LINE, color=c)))


def columns_to_rows(wl, table, count):
    return [[table[w][i] for w in wl] for i in range(count)]


# A
add_series('A', A_WL, ['oxidized', 'reduced'], ['#8a10d8', '#f0202a'], [A_OXIDIZED, A_REDUCED])
# B
add_series('B', B_WL, S15[1:], COL15[1:], columns_to_rows(B_WL, B_ABS, 14))
fig.add_trace(go.Scatter(x=B_PS_WL, y=B_PS, mode='lines', name='polysulfide', xaxis='x2', yaxis='y20',
                         line=dict(LINE, color='black')))
# C, D, E
add_series('C', C_WL, S15, COL15, columns_to_rows(C_WL, C_ABS, 15))
add_series('D', D_WL, D_NAMES, [COL15[S15.index(s)] for s in D_NAMES], D_ROWS)
add_series('E', E_WL, S15, COL15, columns_to_rows(E_WL, E_ABS, 15))
# F-M
for key, table in [('F', F_ABS), ('H', H_ABS), ('J', J_ABS), ('L', L_ABS)]:
    add_series(key, WL, S16, COL16, columns_to_rows(WL, table, 16))
for key, table in [('G', G_ABS), ('I', I_ABS), ('K', K_ABS), ('M', M_ABS)]:
    add_series(key, WL, S15, COL15, columns_to_rows(WL, table, 15))


def arrow_label(text, x, y, xref, yref, dx, dy):
    annotations.append(dict(x=x, y=y, xref=xref, yref=yref, text=text, showarrow=True, ax=dx, ay=dy,
                            arrowhead=2, arrowsize=0.9, arrowwidth=1, arrowcolor='black',
                            standoff=0, font=dict(size=7.5)))


for key, items in PEAKS.items():
    xa, ya = AX[key]
    for text, x, y, dx, dy in items:
        arrow_label(text, x, y, xa, ya, dx, dy)
for text, x, y, dx, dy in PS_PEAKS:
    arrow_label(text, x, y, 'x2', 'y20', dx, dy)


def label(x, y, text, size=8, bold=False, anchor='center'):
    annotations.append(dict(x=px(x), y=py(y), xref='paper', yref='paper', text=f'<b>{text}</b>' if bold else text,
                            showarrow=False, xanchor=anchor, yanchor='middle', font=dict(size=size)))


# panel letters
for letter, (x, y) in {'A': (37, 10), 'B': (173, 12), 'C': (357, 12), 'D': (495, 12), 'E': (633, 12),
                       'F': (37, 205), 'G': (227, 205), 'H': (425, 205), 'I': (608, 205),
                       'J': (40, 343), 'K': (230, 343), 'L': (418, 345), 'M': (607, 345)}.items():
    label(x, y, letter, size=14, bold=True)

# panel titles / notes
label(113, 20, '1,4-NQ', 7.5)
label(260, 20, 'H<sub>2</sub>S', 7.5)
label(425, 20, 'H<sub>2</sub>S+1,4-NQ', 7.5)
label(563, 20, 'GSH', 7.5)
label(732, 21, 'Cys', 7.5)
label(132, 205, '1.4 to 62 s', 7.5)
label(322, 205, '1.4 to 1576 s', 7.5)
label(516, 205, '1.4 to 62 s', 7.5)
label(705, 205, '1.4 to 1576 s', 7.5)
label(16, 257, 'GSH', 12)
label(16, 408, 'Cys', 12)
label(218, 169, '- H<sub>2</sub>S', 11, bold=True)
label(601, 169, '+ H<sub>2</sub>S', 11, bold=True)


def draw_legend(names, colors, x_line, y_first, step, size=7):
    for i, (nm, c) in enumerate(zip(names, colors)):
        y = y_first + i * step
        shapes.append(dict(type='line', xref='paper', yref='paper', x0=px(x_line), x1=px(x_line + 13),
                           y0=py(y), y1=py(y), line=dict(color=c, width=2)))
        annotations.append(dict(x=px(x_line + 15), y=py(y), xref='paper', yref='paper', text=nm,
                                showarrow=False, xanchor='left', yanchor='middle', font=dict(size=size)))


draw_legend(['oxidized', 'reduced'], ['#8a10d8', '#f0202a'], 115, 85, 7.5)
draw_legend(S15, COL15, 747, 23, 7.2)
draw_legend(S16, COL16, 175, 202, 7.33)
draw_legend(S15, COL15, 367, 203, 7.4)
draw_legend(S16, COL16, 563, 204, 7.27)
draw_legend(S15, COL15, 749, 203, 7.4)
draw_legend(S16, COL16, 180, 354, 7.2)
draw_legend(S15, COL15, 367, 350, 7.6)
draw_legend(S16, COL16, 557, 355, 7.2)
draw_legend(S15, COL15, 745, 354, 7.36)


def brace(xl, xm, xr, y, h=5):
    pts = (f'M {px(xl)},{py(y + h)} Q {px(xl)},{py(y)} {px(xl + 5)},{py(y)} L {px(xm - 5)},{py(y)} '
           f'Q {px(xm)},{py(y)} {px(xm)},{py(y - h)} Q {px(xm)},{py(y)} {px(xm + 5)},{py(y)} '
           f'L {px(xr - 5)},{py(y)} Q {px(xr)},{py(y)} {px(xr)},{py(y + h)}')
    shapes.append(dict(type='path', xref='paper', yref='paper', path=pts, line=dict(color='#333', width=1)))


brace(34, 218, 398, 182)
brace(404, 601, 782, 182)

layout['annotations'] = annotations
layout['shapes'] = shapes
fig.update_layout(**layout)
fig.write_html('out.html')
